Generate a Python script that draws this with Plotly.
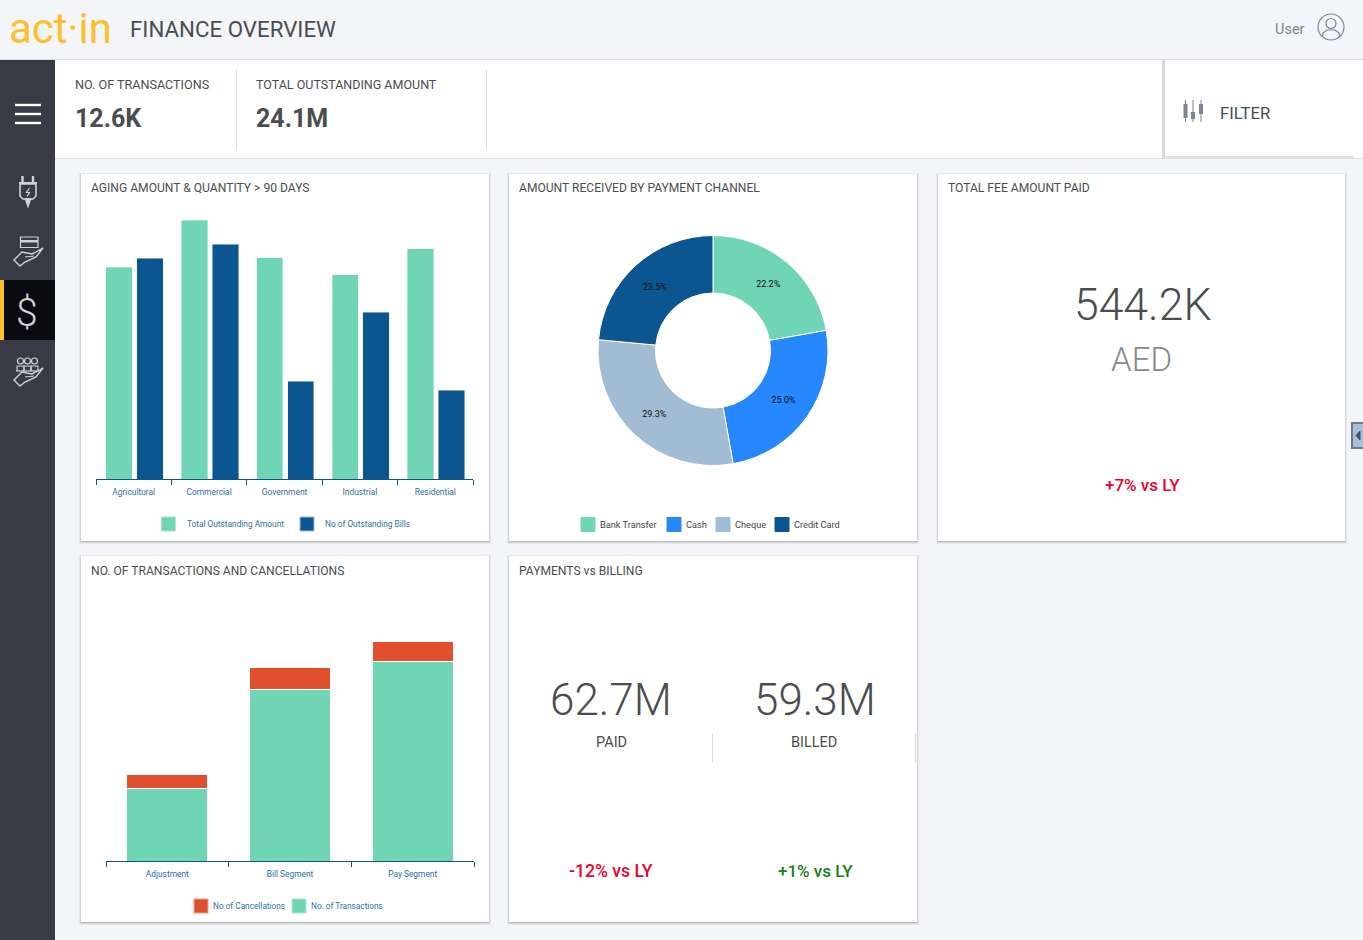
import plotly.graph_objects as go

W, H = 1363, 940

# ---------- data ----------
aging_categories = ["Agricultural", "Commercial", "Government", "Industrial", "Residential"]
total_outstanding = [5.5, 6.72, 5.74, 5.3, 5.97]
outstanding_bills = [2210, 2350, 980, 1670, 890]
aging_names = ["Total Outstanding Amount", "No of Outstanding Bills"]

channel_labels = ["Bank Transfer", "Cash", "Cheque", "Credit Card"]
channel_values = [22.2, 25.0, 29.3, 23.5]

txn_categories = ["Adjustment", "Bill Segment", "Pay Segment"]
no_transactions = [2050, 4870, 5670]
no_cancellations = [400, 630, 570]
txn_names = ["No of Cancellations", "No. of Transactions"]

# ---------- styling ----------
GREEN, NAVY, CASH, CHEQUE, RED = "#6fd5b5", "#0b5591", "#2787ff", "#a2bcd3", "#e0502f"
BG, SIDE, BLACK, YELLOW = "#f3f5f9", "#383b45", "#0a0b0f", "#fbc02d"
TXT, TICK, ICON = "#4a4d50", "#2f6ea6", "#cfd2d6"
FONT = "Roboto"


def X(v): return v / W
def Y(v): return 1 - v / H


shapes, annos = [], []


def rect(x0, y0, x1, y1, fill, line=None, lw=0):
    shapes.append(dict(type="rect", xref="paper", yref="paper", x0=X(x0), x1=X(x1), y0=Y(y0), y1=Y(y1),
                       fillcolor=fill, line=dict(color=line or fill, width=lw), layer="below"))


def path(points, color, lw=1.5, fill=None, close=False):
    d = "M " + " L ".join(f"{X(a):.5f},{Y(b):.5f}" for a, b in points) + (" Z" if close else "")
    shapes.append(dict(type="path", xref="paper", yref="paper", path=d, fillcolor=fill or "rgba(0,0,0,0)",
                       line=dict(color=color, width=lw), layer="below"))


def circle(cx, cy, r, color, lw=1.2, fill=None):
    shapes.append(dict(type="circle", xref="paper", yref="paper", x0=X(cx - r), x1=X(cx + r),
                       y0=Y(cy - r), y1=Y(cy + r), fillcolor=fill or "rgba(0,0,0,0)",
                       line=dict(color=color, width=lw), layer="below"))


def text(s, x, y, size, color=TXT, anchor="left", weight=400):
    annos.append(dict(text=s, xref="paper", yref="paper", x=X(x), y=Y(y), xanchor=anchor, yanchor="middle",
                      showarrow=False, borderpad=0, borderwidth=0,
                      font=dict(family=FONT, size=size, color=color, weight=weight)))


def card(x0, y0, x1, y1):
    for off, alpha in ((3, .05), (2, .08), (1, .12)):
        rect(x0 - off + 1, y0 - off + 2, x1 + off - 1, y1 + off, f"rgba(0,0,0,{alpha})")
    rect(x0, y0, x1, y1, "#ffffff")


def swatch(x, y, color, border):
    rect(x, y - 7, x + 14, y + 7, color, border, 1)


def hand(dy):
    path([(14, 260 + dy), (22, 252 + dy), (32, 254 + dy), (36, 252 + dy), (43, 248 + dy), (36, 257 + dy),
          (25, 262 + dy), (20, 266 + dy)], ICON, 1.4, None, True)
    path([(25, 257 + dy), (34, 256 + dy)], ICON, 1.2)


# ---------- page frame ----------
rect(55, 60, W, 158, "#ffffff")
rect(0, 59, W, 60, "#dcdde0")
rect(55, 158, W, 159, "#dcdde0")
rect(0, 60, 55, H, SIDE)
rect(0, 280, 55, 340, BLACK)
rect(0, 280, 4, 340, YELLOW)
rect(236, 70, 237, 150, "#dddddd")
rect(486, 70, 487, 150, "#dddddd")
rect(1162, 60, 1165, 158, "#d9d9d9")
rect(1165, 156, 1354, 158, "#e2e2e2")
rect(1352, 423, 1364, 448, "#aabdd6", "#6f7883", 2)
path([(1360, 431), (1356, 435.5), (1360, 440)], "#3f5266", 1, "#3f5266", True)

for y in (105, 114, 123):
    rect(15, y - 1.2, 41, y + 1.2, "#ffffff")

# plug icon
path([(22.5, 176), (22.5, 184)], ICON, 2.4)
path([(33, 176), (33, 184)], ICON, 2.4)
path([(19, 183), (37, 183)], ICON, 2)
path([(20, 184), (36, 184), (36, 196), (33, 199), (23, 199), (20, 196)], ICON, 1.6, None, True)
path([(25.5, 199), (28, 206), (30.5, 199)], ICON, 1.6, ICON, True)
path([(29.5, 188), (26.5, 192.5), (29.5, 192.5), (27, 196.5)], ICON, 1.2)
# card in hand icon
path([(20.5, 237), (38, 237), (38, 247.5), (20.5, 247.5)], ICON, 1.2, None, True)
rect(20.5, 240, 38, 242.5, ICON)
hand(0)
# dollar icon
text("$", 27, 313, 39, ICON, anchor="center", weight=300)
# people in hand icon
for cx in (20.5, 27.5, 34.5):
    circle(cx, 361, 3, ICON, 1.2)
    path([(cx - 3.4, 371), (cx - 3.4, 366), (cx + 3.4, 366), (cx + 3.4, 371)], ICON, 1.2)
path([(16, 371), (39, 371)], ICON, 1.2)
hand(120)
# user icon
circle(1331, 27, 13, "#7d8494", 1.2)
circle(1331, 23.5, 5, "#7d8494", 1.2)
path([(1322, 37), (1323, 33), (1327, 30), (1335, 30), (1339, 33), (1340, 37)], "#7d8494", 1.2)
# filter icon
for cx, a, b in ((1185.5, 104, 118), (1193, 112, 119), (1201, 104, 114)):
    path([(cx, 100), (cx, 122)], "#7b8494", 1)
    rect(cx - 2, a, cx + 2, b, "#7b8494")

# ---------- cards ----------
card(81, 174, 489, 541)
card(509, 174, 917, 541)
card(938, 174, 1345, 541)
card(81, 556, 489, 922)
card(509, 556, 917, 922)
rect(712, 733, 713, 763, "#dddddd")
rect(915, 733, 916, 763, "#dddddd")

# ---------- header and KPI text ----------
text("act·in", 9, 28, 42, YELLOW, weight=400)
text("FINANCE OVERVIEW", 130, 29.5, 22.3)
text("User", 1275, 29.5, 14.5, "#7d8494")
text("NO. OF TRANSACTIONS", 75, 84, 12.6)
text("12.6K", 75, 118, 25, weight=700)
text("TOTAL OUTSTANDING AMOUNT", 256, 84, 12.5)
text("24.1M", 256, 118, 25, weight=700)
text("FILTER", 1220, 113.5, 16.7)

text("AGING AMOUNT &amp; QUANTITY &gt; 90 DAYS", 91, 188.5, 12.1)
text("AMOUNT RECEIVED BY PAYMENT CHANNEL", 519, 188.5, 12.1)
text("TOTAL FEE AMOUNT PAID", 948, 188.5, 12.1)
text("NO. OF TRANSACTIONS AND CANCELLATIONS", 91, 570.5, 12.1)
text("PAYMENTS vs BILLING", 519, 570.5, 12.1)

text("544.2K", 1142, 305.5, 44.5, anchor="center", weight=300)
text("AED", 1141, 359, 33, "#8a8a8a", anchor="center", weight=300)
text("+7% vs LY", 1142, 485, 17, "#f0002a", anchor="center", weight=500)
text("62.7M", 611, 699.5, 44, anchor="center", weight=300)
text("PAID", 611, 742, 14.5, anchor="center")
text("59.3M", 815, 699.5, 44, anchor="center", weight=300)
text("BILLED", 814, 742, 14.5, anchor="center")
text("-12% vs LY", 611, 871, 17.6, "#f0002a", anchor="center", weight=500)
text("+1% vs LY", 815, 871, 17, "#168016", anchor="center", weight=500)

# ---------- manual legends (square swatches) ----------
swatch(161.5, 524, GREEN, "#a9e6d3")
text(aging_names[0], 187, 524, 8.3, TICK)
swatch(300, 524, NAVY, "#9db9d3")
text(aging_names[1], 325, 524, 8.3, TICK)

for name, color, sx, tx in zip(channel_labels, (GREEN, CASH, CHEQUE, NAVY), (581, 667, 716, 775), (600, 686, 735, 794)):
    swatch(sx, 524.5, color, color)
    text(name, tx, 524.5, 9.2, "#444444")

swatch(194, 906, RED, "#efa08c")
text(txn_names[0], 213, 906, 8.25, TICK)
swatch(292, 906, GREEN, "#a9e6d3")
text(txn_names[1], 311, 906, 8.25, TICK)

# ---------- traces ----------
fig = go.Figure()
fig.add_bar(x=aging_categories, y=total_outstanding, name=aging_names[0], marker_color=GREEN,
            width=0.35, offset=-0.37, xaxis="x", yaxis="y")
fig.add_bar(x=aging_categories, y=outstanding_bills, name=aging_names[1], marker_color=NAVY,
            width=0.35, offset=0.04, xaxis="x", yaxis="y2")
fig.add_pie(labels=channel_labels, values=channel_values, hole=0.5, sort=False, direction="clockwise", rotation=0,
            marker=dict(colors=[GREEN, CASH, CHEQUE, NAVY], line=dict(color="#ffffff", width=1)),
            texttemplate="%{percent:.1%}", textposition="inside", insidetextorientation="horizontal",
            textfont=dict(family=FONT, size=9, color="#111111"),
            domain=dict(x=[X(598), X(828)], y=[Y(465.5), Y(235.5)]))
fig.add_bar(x=txn_categories, y=no_transactions, name=txn_names[1], marker=dict(color=GREEN, line=dict(color="#ffffff", width=1)),
            xaxis="x3", yaxis="y3")
fig.add_bar(x=txn_categories, y=no_cancellations, name=txn_names[0], marker=dict(color=RED, line=dict(color="#ffffff", width=1)),
            xaxis="x3", yaxis="y3")

cat_axis = dict(type="category", showgrid=False, zeroline=False, showline=True, linecolor=NAVY, linewidth=1,
                ticks="outside", tickcolor=NAVY, ticklen=5, tickson="boundaries", fixedrange=True,
                ticklabelstandoff=5, tickfont=dict(family=FONT, size=8.4, color=TICK))
val_axis = dict(visible=False, showgrid=False, zeroline=False, fixedrange=True)

fig.update_layout(
    width=W, height=H, autosize=False, margin=dict(l=0, r=0, t=0, b=0),
    paper_bgcolor=BG, plot_bgcolor="rgba(0,0,0,0)", showlegend=False, barmode="stack",
    bargap=0.34, font=dict(family=FONT),
    xaxis=dict(cat_axis, domain=[X(96), X(473)], anchor="y"),
    yaxis=dict(val_axis, domain=[Y(479), Y(204)], range=[0, 275 * 0.02595]),
    yaxis2=dict(val_axis, domain=[Y(479), Y(204)], range=[0, 2750], overlaying="y", anchor="x"),
    xaxis3=dict(cat_axis, domain=[X(106), X(474)], anchor="y3"),
    yaxis3=dict(val_axis, domain=[Y(861), Y(620)], range=[0, 240 * 28.5]),
    shapes=shapes, annotations=annos,
)

fig.write_html("out.html", config=dict(displayModeBar=False, responsive=False),
               post_script="document.body.style.margin='0';document.body.style.overflow='hidden';")
